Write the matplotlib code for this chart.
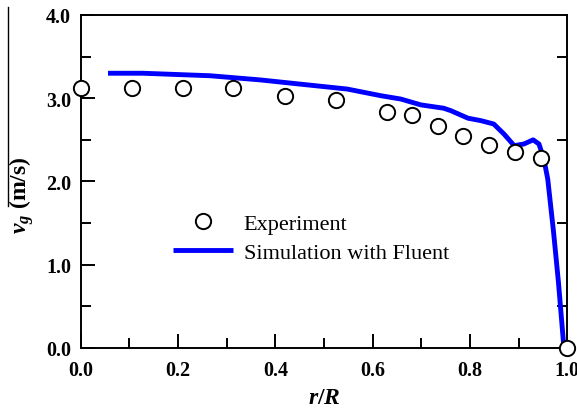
import matplotlib
matplotlib.use('Agg')
import matplotlib.pyplot as plt
from matplotlib.lines import Line2D
import matplotlib.ticker as ticker

# %%
plt.rcParams['font.family'] = ['Liberation Serif', 'DejaVu Serif']
plt.rcParams['mathtext.fontset'] = 'custom'
plt.rcParams['mathtext.rm'] = 'Liberation Serif:bold'
plt.rcParams['mathtext.it'] = 'Liberation Serif:italic:bold'
plt.rcParams['mathtext.bf'] = 'Liberation Serif:bold'

# %%
# 实验数据 (r/R, v_g)
exp_x = [0.0, 0.105, 0.21, 0.313, 0.42, 0.525, 0.63, 0.681, 0.734, 0.786, 0.84, 0.893, 0.947, 1.0]
exp_y = [3.12, 3.12, 3.12, 3.12, 3.03, 2.98, 2.83, 2.80, 2.67, 2.55, 2.44, 2.35, 2.28, 0.0]

# Fluent 模拟结果
sim_x = [0.056, 0.128, 0.266, 0.369, 0.45, 0.548, 0.617, 0.658, 0.699, 0.746, 0.761,
         0.796, 0.823, 0.849, 0.870, 0.891, 0.911, 0.930, 0.942, 0.952, 0.960, 0.972,
         0.982, 0.993]
sim_y = [3.30, 3.30, 3.27, 3.22, 3.17, 3.11, 3.03, 2.99, 2.92, 2.88, 2.85,
         2.76, 2.73, 2.69, 2.57, 2.43, 2.45, 2.50, 2.45, 2.27, 2.03, 1.39,
         0.79, 0.02]

# %%
fig = plt.figure(figsize=(5.77, 4.10), dpi=100)
ax = fig.add_axes([0.140, 0.149, 0.843, 0.812])

ax.plot(sim_x, sim_y, color='#0000ff', lw=3.5, solid_capstyle='butt',
        label='Simulation with Fluent', zorder=2)
ax.plot(exp_x, exp_y, 'o', mfc='white', mec='black', ms=11, mew=1.4,
        label='Experiment', clip_on=False, zorder=3)

ax.set_xlim(0, 1.0)
ax.set_ylim(0, 4.0)
ax.xaxis.set_major_locator(ticker.MultipleLocator(0.2))
ax.xaxis.set_minor_locator(ticker.MultipleLocator(0.1))
ax.yaxis.set_major_locator(ticker.MultipleLocator(1.0))
ax.yaxis.set_minor_locator(ticker.MultipleLocator(0.5))
ax.xaxis.set_major_formatter(ticker.FormatStrFormatter('%.1f'))
ax.yaxis.set_major_formatter(ticker.FormatStrFormatter('%.1f'))

for s in ax.spines.values():
    s.set_linewidth(1.4)
ax.tick_params(which='major', direction='in', length=10, width=1.4,
               labelsize=14.5, top=False, right=False)
ax.tick_params(which='minor', direction='in', length=7, width=1.4,
               top=False, right=True)
ax.tick_params(axis='y', which='major', pad=7)
ax.tick_params(axis='x', which='major', pad=9)
for lab in ax.get_xticklabels() + ax.get_yticklabels():
    lab.set_fontweight('bold')

ax.set_xlabel(r'$r/R$', fontsize=17)
ax.xaxis.set_label_coords(0.5, -0.118)
ax.set_ylabel(r'$v_g$ (m/s)', fontsize=17, fontweight='bold')
ax.yaxis.set_label_coords(-0.092, 0.46)
# 标签上方的横线
fig.add_artist(Line2D([0.014, 0.014], [0.495, 0.98], transform=fig.transFigure,
                      color='black', lw=1.0))

handles, labels = ax.get_legend_handles_labels()
ax.legend(handles[::-1], labels[::-1], loc='upper left', bbox_to_anchor=(0.189, 0.405),
          frameon=False, fontsize=16, handlelength=2.7, handletextpad=0.5,
          labelspacing=0.4, borderpad=0, borderaxespad=0, numpoints=1)

plt.savefig('out.png', dpi=100)
